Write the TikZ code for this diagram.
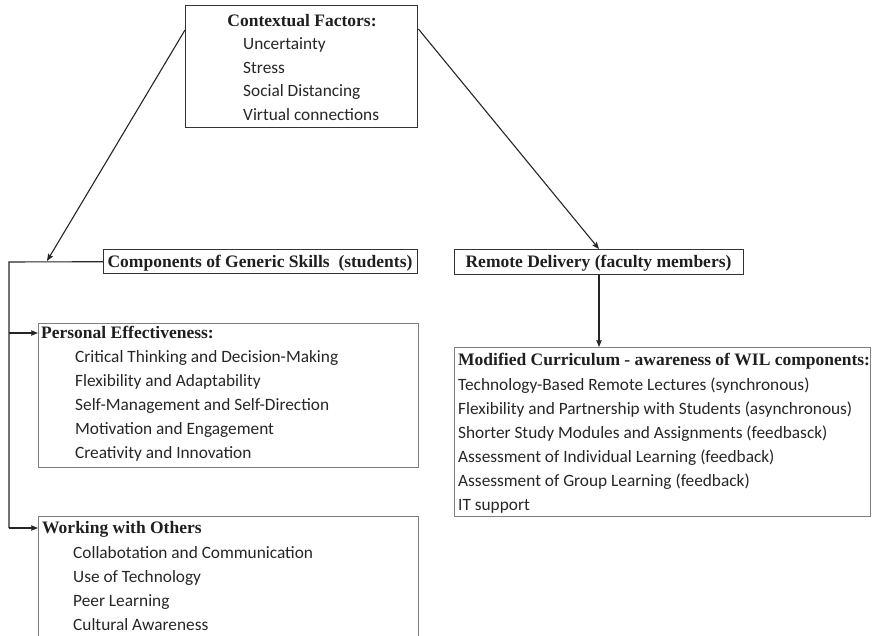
\documentclass[tikz,border=0pt]{standalone}
\usepackage{fontspec}
\setmainfont{Liberation Serif}
\newfontfamily\itemfont{Carlito}
\usetikzlibrary{arrows.meta}
\begin{document}
\begin{tikzpicture}[x=1pt,y=-1pt,
  darkbox/.style={draw=black!80, line width=1.4pt, inner sep=0pt, anchor=north west},
  graybox/.style={draw=black!50, line width=1pt, inner sep=0pt, anchor=north west},
  hdr/.style={inner sep=0pt, text=black!88, font=\fontsize{17.5}{20}\selectfont\bfseries},
  itm/.style={inner sep=0pt, anchor=base west, text=black!85, font=\itemfont\fontsize{17.3}{20}\selectfont},
  conn/.style={draw=black!85, line width=1.1pt},
  arr/.style={conn, -{Stealth[length=7pt,width=5.5pt,inset=1pt]}}
]
\useasboundingbox (0,0) rectangle (874,636);

% Contextual factors
\node[darkbox, minimum width=232pt, minimum height=122pt] (ctx) at (185,5) {};
\node[hdr, anchor=base] (ctxh) at (302,26.5) {Contextual Factors:};
\node[itm] (c1) at (243,49.5) {Uncertainty};
\node[itm] (c2) at (243,73.5) {Stress};
\node[itm] (c3) at (243,97) {Social Distancing};
\node[itm] (c4) at (243,121) {Virtual connections};

% Components of generic skills
\node[darkbox, minimum width=314pt, minimum height=24pt] (comp) at (103,249) {};
\node[hdr, anchor=base] (comph) at (260,267) {Components of Generic Skills~ (students)};

% Remote delivery
\node[darkbox, minimum width=289pt, minimum height=25pt] (rem) at (454,249) {};
\node[hdr, anchor=base] (remh) at (598.5,267) {Remote Delivery (faculty members)};

% Personal effectiveness
\node[graybox, minimum width=380pt, minimum height=144pt] (pe) at (38,323) {};
\node[hdr, anchor=base west] (peh) at (41,338) {Personal Effectiveness:};
\node[itm] (p1) at (75,362) {Critical Thinking and Decision-Making};
\node[itm] (p2) at (75,386) {Flexibility and Adaptability};
\node[itm] (p3) at (75,410) {Self-Management and Self-Direction};
\node[itm] (p4) at (75,434) {Motivation and Engagement};
\node[itm] (p5) at (75,458) {Creativity and Innovation};

% Working with others
\node[graybox, minimum width=380pt, minimum height=130pt] (wo) at (38,516) {};
\node[hdr, anchor=base west] (woh) at (42,533) {Working with Others};
\node[itm] (w1) at (73,558) {Collabotation and Communication};
\node[itm] (w2) at (73,582) {Use of Technology};
\node[itm] (w3) at (73,606) {Peer Learning};
\node[itm] (w4) at (73,630) {Cultural Awareness};

% Modified curriculum
\node[graybox, minimum width=416pt, minimum height=169pt] (mc) at (454,347) {};
\node[hdr, anchor=base west] (mch) at (458,365) {Modified Curriculum - awareness of WIL components:};
\node[itm] (m1) at (458,390) {Technology-Based Remote Lectures (synchronous)};
\node[itm] (m2) at (458,414) {Flexibility and Partnership with Students (asynchronous)};
\node[itm] (m3) at (458,438) {Shorter Study Modules and Assignments (feedbasck)};
\node[itm] (m4) at (458,462) {Assessment of Individual Learning (feedback)};
\node[itm] (m5) at (458,486) {Assessment of Group Learning (feedback)};
\node[itm] (m6) at (458,510) {IT support};

% connectors
\coordinate (lstart) at (ctx.north west |- 0,30);
\coordinate (ltip) at (47,261);
\coordinate (rstart) at (ctx.north east |- 0,29);
\coordinate (corner) at (9,262);
\coordinate (pebr) at (9,333);
\coordinate (wobr) at (9,528);
\draw[arr] (lstart) -- (ltip);
\draw[arr] (rstart) -- (rem.north -| 599,0);
\draw[arr] (rem.south -| 599,0) -- (mc.north -| 599,0);
\draw[conn] (comp.west) -- (corner) -- (wobr);
\draw[arr] (pebr) -- (pebr -| pe.west);
\draw[arr] (wobr) -- (wobr -| wo.west);
\end{tikzpicture}
\end{document}
